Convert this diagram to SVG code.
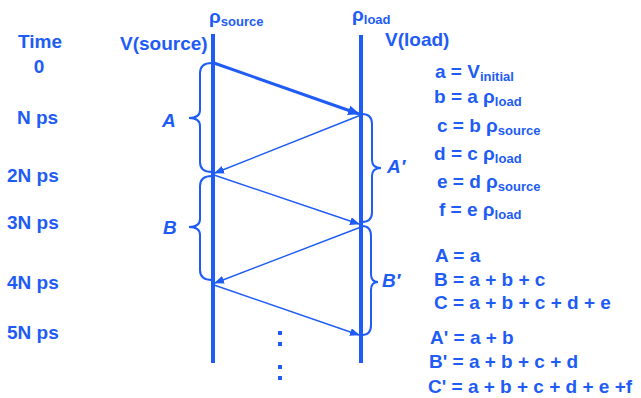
<svg xmlns="http://www.w3.org/2000/svg" width="641" height="398" viewBox="0 0 641 398">
<style>
text{font-family:"Liberation Sans",Arial,sans-serif;font-weight:bold;fill:#1e5cf5;font-size:19px}
.sub{font-size:13px}
.it{font-style:italic}
.rail{stroke:#1e5cf5;stroke-width:4;fill:none}
.brace{stroke:#1e5cf5;stroke-width:2;fill:none}
.thick{stroke:#1e5cf5;stroke-width:3;fill:none}
.thin{stroke:#1e5cf5;stroke-width:1.4;fill:none}
</style>
<defs>
<marker id="ah" markerWidth="10" markerHeight="8" refX="9" refY="4" orient="auto" markerUnits="userSpaceOnUse">
<path d="M0,0 L10,4 L0,8 Z" fill="#1e5cf5"/>
</marker>
<marker id="ahs" markerWidth="12" markerHeight="10" refX="11" refY="5" orient="auto" markerUnits="userSpaceOnUse">
<path d="M0,0 L12,5 L0,10 Z" fill="#1e5cf5"/>
</marker>
</defs>
<g id="time-axis">
<text x="40" y="48" text-anchor="middle">Time</text>
<text x="39" y="73" text-anchor="middle">0</text>
<text x="17" y="124">N ps</text>
<text x="7" y="182">2N ps</text>
<text x="7" y="229">3N ps</text>
<text x="7" y="289">4N ps</text>
<text x="7" y="339">5N ps</text>
</g>
<g id="source">
<line class="rail" x1="213" y1="34" x2="213" y2="363"/>
<text x="120" y="50">V(source)</text>
<text x="209" y="23">ρ<tspan class="sub" dy="3">source</tspan></text>
</g>
<g id="load">
<line class="rail" x1="361" y1="35" x2="361" y2="363"/>
<text x="385" y="46">V(load)</text>
<text x="352" y="21">ρ<tspan class="sub" dy="3">load</tspan></text>
</g>
<g id="connectors">
<line class="thick" x1="214" y1="63" x2="359" y2="114" marker-end="url(#ahs)"/>
<line class="thin" x1="361" y1="115" x2="215" y2="173" marker-end="url(#ah)"/>
<line class="thin" x1="214" y1="175" x2="359" y2="224" marker-end="url(#ah)"/>
<line class="thin" x1="361" y1="227" x2="215" y2="283" marker-end="url(#ah)"/>
<line class="thin" x1="214" y1="285" x2="359" y2="335" marker-end="url(#ah)"/>
</g>
<g id="brace-A">
<path class="brace" d="M212,63 Q200,63 200,73 L200,110 Q200,118 189,118 Q200,118 200,126 L200,162 Q200,172 212,172"/>
<text class="it" x="162" y="127">A</text>
</g>
<g id="brace-B">
<path class="brace" d="M212,176 Q200,176 200,186 L200,219 Q200,227 189,227 Q200,227 200,235 L200,270 Q200,280 212,280"/>
<text class="it" x="163" y="234">B</text>
</g>
<g id="brace-A-prime">
<path class="brace" d="M362,114 Q372,114 372,124 L372,160 Q372,168 381,168 Q372,168 372,176 L372,212 Q372,222 362,222"/>
<text class="it" x="387" y="173">A′</text>
</g>
<g id="brace-B-prime">
<path class="brace" d="M362,226 Q371,226 371,236 L371,274 Q371,282 378,282 Q371,282 371,290 L371,325 Q371,335 362,335"/>
<text class="it" x="382" y="287">B′</text>
</g>
<g id="ellipsis" fill="#1e5cf5">
<rect x="278" y="331" width="4" height="4"/>
<rect x="278" y="342" width="4" height="4"/>
<rect x="278" y="365" width="4" height="4"/>
<rect x="278" y="376" width="4" height="4"/>
</g>
<g id="equations">
<text x="435" y="78">a = V<tspan class="sub" dy="3">initial</tspan></text>
<text x="434" y="103">b = a ρ<tspan class="sub" dy="3">load</tspan></text>
<text x="437" y="132">c = b ρ<tspan class="sub" dy="3">source</tspan></text>
<text x="434" y="160">d = c ρ<tspan class="sub" dy="3">load</tspan></text>
<text x="437" y="188">e = d ρ<tspan class="sub" dy="3">source</tspan></text>
<text x="439" y="216">f = e ρ<tspan class="sub" dy="3">load</tspan></text>
<text x="435" y="262">A = a</text>
<text x="434" y="286">B = a + b + c</text>
<text x="434" y="309">C = a + b + c + d + e</text>
<text x="430" y="344">A' = a + b</text>
<text x="429" y="368">B' = a + b + c + d</text>
<text x="428" y="393">C' = a + b + c + d + e +f</text>
</g>
</svg>
